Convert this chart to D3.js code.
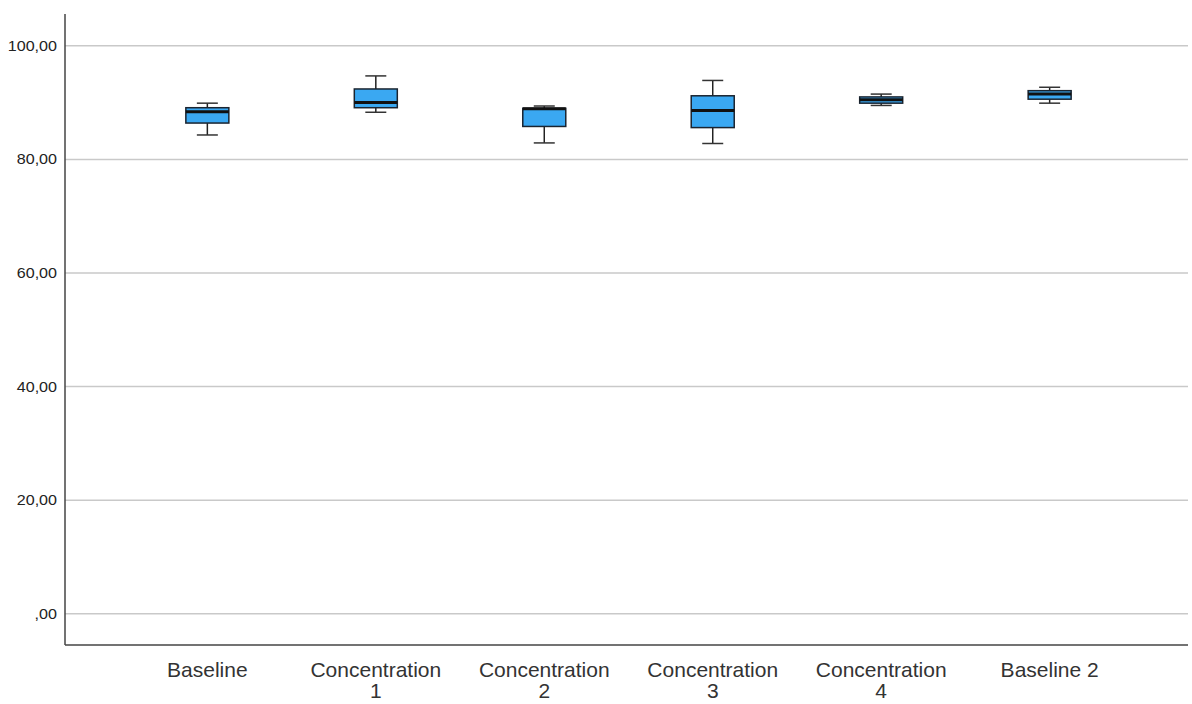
<!DOCTYPE html>
<html><head><meta charset="utf-8">
<script src="https://cdn.jsdelivr.net/npm/d3@7"></script>
<style>body{margin:0;background:#fff}svg{display:block}</style>
</head><body>
<script>
const categories = [["Baseline"],["Concentration","1"],["Concentration","2"],["Concentration","3"],["Concentration","4"],["Baseline 2"]];
const whiskerLow  = [84.3, 88.3, 82.9, 82.8, 89.5, 89.9];
const q1          = [86.4, 89.1, 85.8, 85.6, 89.9, 90.6];
const median      = [88.4, 90.0, 88.9, 88.6, 90.5, 91.5];
const q3          = [89.1, 92.4, 89.0, 91.2, 91.0, 92.1];
const whiskerHigh = [89.9, 94.7, 89.4, 93.9, 91.5, 92.7];
const yTicks = [0, 20, 40, 60, 80, 100];

(function(){
const W = 1192, H = 704;
const svg = d3.select("body").append("svg").attr("width", W).attr("height", H);
const pl = 65, pr = 1188, pt = 14, pb = 645;
const y = d3.scaleLinear().domain([-5.5, 105.6]).range([pb, pt]);
const x = d3.scaleBand().domain(d3.range(categories.length)).range([pl, pr + 4]).paddingInner(0).paddingOuter(0.345);
const fmt = v => (v === 0 ? "" : String(v)) + ",00";

// grid
svg.append("g").selectAll("line").data(yTicks).join("line")
  .attr("x1", pl).attr("x2", pr).attr("y1", d => y(d)).attr("y2", d => y(d))
  .attr("stroke", "#c9c9c9").attr("stroke-width", 1.5);
svg.append("g").selectAll("text").data(yTicks).join("text")
  .attr("x", 57).attr("y", d => y(d) + 5).attr("text-anchor", "end")
  .attr("font-family", "Liberation Sans, Arial, sans-serif").attr("font-size", 14).attr("fill", "#222")
  .attr("transform", `translate(${57*(1-1.15)},0) scale(1.15,1)`)
  .text(fmt);

// axes lines
svg.append("line").attr("x1", pl).attr("x2", pl).attr("y1", pt).attr("y2", pb).attr("stroke", "#444").attr("stroke-width", 1.5);
svg.append("line").attr("x1", pl).attr("x2", pr).attr("y1", pb).attr("y2", pb).attr("stroke", "#444").attr("stroke-width", 1.5);

// x labels
const xl = svg.append("g").selectAll("text").data(categories).join("text")
  .attr("text-anchor", "middle")
  .attr("font-family", "Liberation Sans, Arial, sans-serif").attr("font-size", 21).attr("fill", "#333")
  .attr("transform", (d, i) => `translate(${x(i) + x.bandwidth()/2},0)`);
xl.each(function(d){
  const t = d3.select(this);
  d.forEach((s, k) => t.append("tspan").attr("x", 0).attr("y", 677 + k*21).text(s));
});

// boxes
const boxW = 43, capW = 21;
const g = svg.append("g").selectAll("g").data(categories).join("g")
  .attr("transform", (d, i) => `translate(${x(i) + x.bandwidth()/2},0)`);
g.append("line").attr("x1", 0).attr("x2", 0).attr("y1", (d,i) => y(whiskerHigh[i])).attr("y2", (d,i) => y(q3[i])).attr("stroke", "#222").attr("stroke-width", 1.5);
g.append("line").attr("x1", 0).attr("x2", 0).attr("y1", (d,i) => y(q1[i])).attr("y2", (d,i) => y(whiskerLow[i])).attr("stroke", "#222").attr("stroke-width", 1.5);
g.append("line").attr("x1", -capW/2).attr("x2", capW/2).attr("y1", (d,i) => y(whiskerHigh[i])).attr("y2", (d,i) => y(whiskerHigh[i])).attr("stroke", "#333").attr("stroke-width", 1.5);
g.append("line").attr("x1", -capW/2).attr("x2", capW/2).attr("y1", (d,i) => y(whiskerLow[i])).attr("y2", (d,i) => y(whiskerLow[i])).attr("stroke", "#333").attr("stroke-width", 1.5);
g.append("rect").attr("x", -boxW/2).attr("width", boxW)
  .attr("y", (d,i) => y(q3[i])).attr("height", (d,i) => y(q1[i]) - y(q3[i]))
  .attr("fill", "#3aa8f2").attr("stroke", "#1a2430").attr("stroke-width", 1.5);
g.append("line").attr("x1", -boxW/2).attr("x2", boxW/2).attr("y1", (d,i) => y(median[i])).attr("y2", (d,i) => y(median[i])).attr("stroke", "#111").attr("stroke-width", 3);
})();
</script>
</body></html>
